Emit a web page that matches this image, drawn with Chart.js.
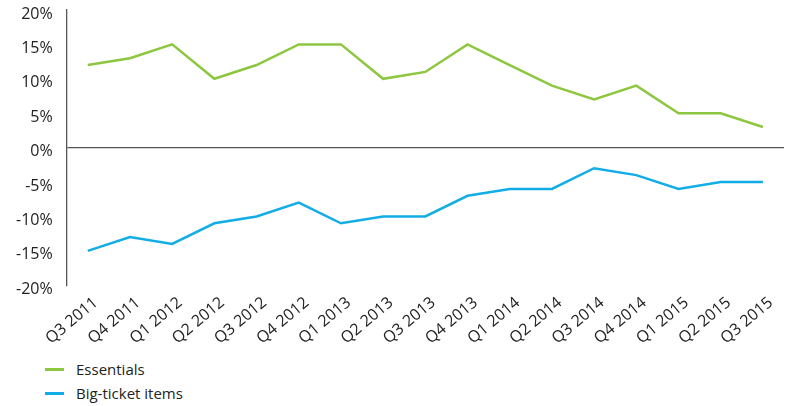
<!DOCTYPE html>
<html>
<head>
<meta charset="utf-8">
<script src="https://cdn.jsdelivr.net/npm/chart.js@4"></script>
<style>
  body { margin: 0; background: #fff; font-family: "Open Sans", sans-serif; }
  #wrap { position: relative; width: 788px; height: 356px; }
  #legend { position: absolute; left: 45px; top: 357px; }
  .item { display: flex; align-items: center; height: 24px; color: #222; font-size: 15px; }
  .swatch { width: 19px; height: 3px; margin-right: 12px; }
</style>
</head>
<body>
<div id="wrap"><canvas id="chart"></canvas></div>
<div id="legend"></div>
<script>
// datos
const quarters = ["Q3 2011","Q4 2011","Q1 2012","Q2 2012","Q3 2012","Q4 2012","Q1 2013","Q2 2013","Q3 2013",
  "Q4 2013","Q1 2014","Q2 2014","Q3 2014","Q4 2014","Q1 2015","Q2 2015","Q3 2015"];
const essentials = [12, 13, 15, 10, 12, 15, 15, 10, 11, 15, 12, 9, 7, 9, 5, 5, 3];
const bigTicket = [-15, -13, -14, -11, -10, -8, -11, -10, -10, -7, -6, -6, -3, -4, -6, -5, -5];
const yTicks = [-20, -15, -10, -5, 0, 5, 10, 15, 20];

const series = [
  { label: "Essentials", data: essentials, color: "#8dc63f" },
  { label: "Big-ticket items", data: bigTicket, color: "#12ade6" }
];

let ctx = document.getElementById("chart").getContext("2d");
let chart = new Chart(ctx, {
  type: "line",
  data: {
    labels: quarters,
    datasets: series.map(s => ({
      label: s.label,
      data: s.data,
      borderColor: s.color,
      backgroundColor: s.color,
      borderWidth: 2.5,
      pointRadius: 0,
      tension: 0
    }))
  },
  options: {
    responsive: true,
    maintainAspectRatio: false,
    animation: false,
    layout: { padding: { left: 2, right: 4, top: 10, bottom: 0 } },
    plugins: { legend: { display: false }, tooltip: { enabled: false } },
    scales: {
      x: {
        offset: true,
        grid: { display: false, drawTicks: false },
        border: { display: false },
        ticks: {
          color: "#222",
          font: { family: "Open Sans", size: 16 },
          maxRotation: 40, minRotation: 40,
          autoSkip: false,
          labelOffset: 8,
          padding: 8
        }
      },
      y: {
        min: -20, max: 20,
        afterBuildTicks: axis => { axis.ticks = yTicks.map(v => ({ value: v })); },
        afterFit: axis => { axis.paddingTop = 0; },
        grid: {
          drawTicks: false,
          color: c => c.tick && c.tick.value === 0 ? "#555" : "rgba(0,0,0,0)",
          lineWidth: 1.3
        },
        border: { display: true, color: "#555", width: 1.3 },
        ticks: {
          color: "#222",
          font: { family: "Open Sans", size: 16 },
          padding: 14,
          labelOffset: 4,
          callback: v => v + "%"
        }
      }
    }
  }
});

// leyenda
const legend = document.getElementById("legend");
series.forEach(s => {
  legend.innerHTML += `<div class="item"><span class="swatch" style="background:${s.color}"></span>${s.label}</div>`;
});
</script>
</body>
</html>
